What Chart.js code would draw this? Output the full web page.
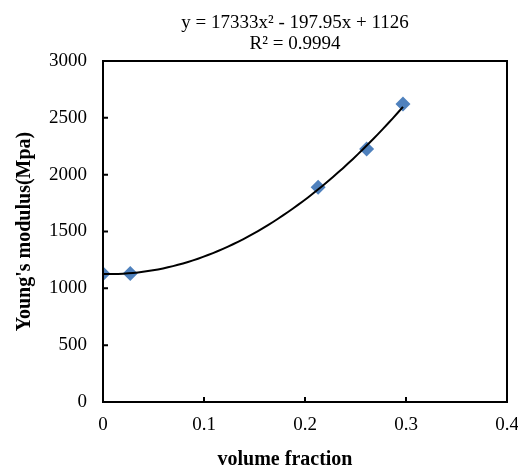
<!DOCTYPE html>
<html>
<head>
<meta charset="utf-8">
<script src="https://cdn.jsdelivr.net/npm/chart.js@4/dist/chart.umd.min.js"></script>
<style>
  html, body { margin: 0; padding: 0; background: #fff; }
  #wrap { width: 518px; height: 468px; }
</style>
</head>
<body>
<div id="wrap"><canvas id="grafico"></canvas></div>
<script>
// dados
var fracao = [0, 0.027, 0.213, 0.261, 0.297];
var modulo = [1128, 1130, 1890, 2225, 2621];
var xTicks = [0, 0.1, 0.2, 0.3, 0.4];
var yTicks = [0, 500, 1000, 1500, 2000, 2500, 3000];
// coeficientes da linha de tendência (a, b, c) de y = a x² + b x + c
var coefTendencia = [17333, -197.95, 1126];
var textoEquacao = ['y = 17333x\u00b2 - 197.95x + 1126', 'R\u00b2 = 0.9994'];
var tituloX = 'volume fraction';
var tituloY = "Young's modulus(Mpa)";

var serif = "'Liberation Serif', 'Times New Roman', serif";

// pontos da linha de tendência a partir da equação mostrada
var tendencia = [];
for (var i = 0; i <= 60; i++) {
    var xv = fracao[fracao.length - 1] * i / 60;
    tendencia.push({ x: xv, y: coefTendencia[0] * xv * xv + coefTendencia[1] * xv + coefTendencia[2] });
}

var pontos = fracao.map(function (v, i) { return { x: v, y: modulo[i] }; });

// moldura, marcas internas e textos
var molduraPlugin = {
    id: 'moldura',
    afterDatasetsDraw: function (chart) {
        var ctx = chart.ctx;
        var a = chart.chartArea;
        var sx = chart.scales.x, sy = chart.scales.y;
        ctx.save();
        ctx.strokeStyle = '#000';
        ctx.lineWidth = 2;
        ctx.strokeRect(a.left, a.top, a.right - a.left, a.bottom - a.top);
        ctx.beginPath();
        xTicks.forEach(function (t) {
            var px = sx.getPixelForValue(t);
            ctx.moveTo(px, a.bottom);
            ctx.lineTo(px, a.bottom - 5);
        });
        yTicks.forEach(function (t) {
            var py = sy.getPixelForValue(t);
            ctx.moveTo(a.left, py);
            ctx.lineTo(a.left + 5, py);
        });
        ctx.stroke();
        ctx.restore();
    },
    afterDraw: function (chart) {
        var ctx = chart.ctx;
        var a = chart.chartArea;
        ctx.save();
        ctx.fillStyle = '#000';
        ctx.textAlign = 'center';
        ctx.textBaseline = 'alphabetic';
        ctx.font = '19px ' + serif;
        ctx.fillText(textoEquacao[0], 295, 28);
        ctx.fillText(textoEquacao[1], 295, 49);
        ctx.font = 'bold 20px ' + serif;
        ctx.fillText(tituloX, 285, 465);
        ctx.translate(30, (a.top + a.bottom) / 2);
        ctx.rotate(-Math.PI / 2);
        ctx.fillText(tituloY, 0, 0);
        ctx.restore();
    }
};

var config = {
    type: 'scatter',
    data: {
        datasets: [
            {
                label: 'tendencia',
                type: 'line',
                data: tendencia,
                borderColor: '#000',
                borderWidth: 2,
                pointRadius: 0,
                fill: false,
                order: 0
            },
            {
                label: 'dados',
                data: pontos,
                pointStyle: 'rectRot',
                pointRadius: 7.5,
                backgroundColor: '#4f81bd',
                borderWidth: 0,
                order: 1
            }
        ]
    },
    options: {
        responsive: true,
        maintainAspectRatio: false,
        animation: false,
        layout: { padding: { top: 61, right: 11, left: 0, bottom: 0 } },
        scales: {
            x: {
                type: 'linear',
                min: 0,
                max: 0.4,
                afterFit: function (s) { s.height = 66; s.paddingRight = 0; s.paddingLeft = 0; },
                afterBuildTicks: function (s) { s.ticks = xTicks.map(function (v) { return { value: v }; }); },
                grid: { display: false, drawTicks: false },
                border: { display: false },
                ticks: {
                    padding: 12,
                    color: '#000',
                    font: { family: serif, size: 19 },
                    callback: function (v) { return String(Math.round(v * 10) / 10); }
                }
            },
            y: {
                min: 0,
                max: 3000,
                afterFit: function (s) { s.width = 103; s.paddingTop = 0; s.paddingBottom = 0; },
                afterBuildTicks: function (s) { s.ticks = yTicks.map(function (v) { return { value: v }; }); },
                grid: { display: false, drawTicks: false },
                border: { display: false },
                ticks: {
                    padding: 16,
                    color: '#000',
                    font: { family: serif, size: 19 },
                    callback: function (v) { return String(v); }
                }
            }
        },
        plugins: {
            legend: { display: false },
            tooltip: { enabled: false }
        }
    },
    plugins: [molduraPlugin]
};

var grafico = new Chart(document.getElementById('grafico').getContext('2d'), config);
</script>
</body>
</html>
